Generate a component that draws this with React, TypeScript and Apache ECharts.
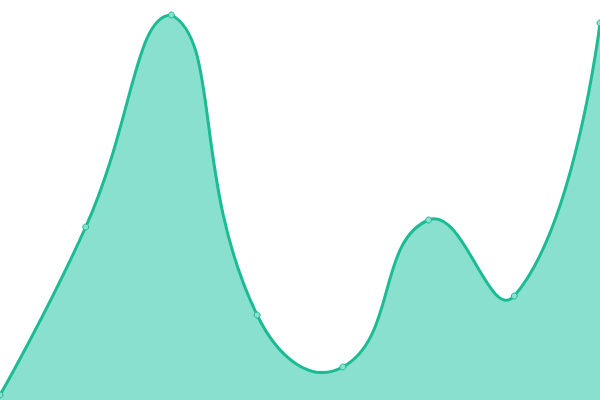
import { useEffect, useRef } from 'react'
import * as echarts from 'echarts'

const categories = ['A', 'B', 'C', 'D', 'E', 'F', 'G', 'H']
const values = [5, 173, 385, 85, 33, 180, 104, 377]

const LINE = '#1dbb94'
const AREA = '#8ae0cf'
const SMOOTH = 0.5

type Pt = [number, number]

// spline through the points, control points kept inside the points' bounding box
function smoothPath(pts: Pt[]) {
  const xs = pts.map((p) => p[0])
  const ys = pts.map((p) => p[1])
  const min: Pt = [Math.min(...xs), Math.min(...ys)]
  const max: Pt = [Math.max(...xs), Math.max(...ys)]
  const clamp = (p: Pt): Pt => [
    Math.max(min[0], Math.min(max[0], p[0])),
    Math.max(min[1], Math.min(max[1], p[1])),
  ]
  let d = `M${pts[0][0]},${pts[0][1]}`
  let cp0: Pt = [pts[0][0], pts[0][1]]
  for (let i = 1; i < pts.length; i++) {
    const p = pts[i]
    const prev = pts[i - 1]
    const next = pts[i + 1]
    let cp1: Pt = [p[0], p[1]]
    let v: Pt = [0, 0]
    let ratio = 0.5
    if (next) {
      v = [next[0] - prev[0], next[1] - prev[1]]
      const a = Math.hypot(p[0] - prev[0], p[1] - prev[1])
      const b = Math.hypot(next[0] - p[0], next[1] - p[1])
      ratio = b / (a + b)
      cp1 = [p[0] - v[0] * SMOOTH * (1 - ratio), p[1] - v[1] * SMOOTH * (1 - ratio)]
    }
    const c0 = clamp(cp0)
    const c1 = clamp(cp1)
    d += ` C${c0[0]},${c0[1]} ${c1[0]},${c1[1]} ${p[0]},${p[1]}`
    cp0 = [p[0] + v[0] * SMOOTH * ratio, p[1] + v[1] * SMOOTH * ratio]
  }
  return d
}

function App() {
  const chartRef = useRef<HTMLDivElement>(null)

  useEffect(() => {
    if (!chartRef.current) return
    const chart = echarts.init(chartRef.current, null, { renderer: 'svg' })

    chart.setOption({
      animation: false,
      grid: { left: 0, right: 0, top: 0, bottom: 0 },
      xAxis: {
        type: 'category',
        data: categories,
        boundaryGap: false,
        show: false,
      },
      yAxis: {
        type: 'value',
        min: 0,
        max: 400,
        show: false,
      },
      series: [
        {
          type: 'custom',
          z: 2,
          data: [[0, 0]],
          renderItem: (_params: any, api: any) => {
            const pts: Pt[] = values.map((v, i) => api.coord([i, v]))
            const base = api.coord([0, 0])[1]
            const line = smoothPath(pts)
            const last = pts[pts.length - 1]
            const area = `${line} L${last[0]},${base} L${pts[0][0]},${base} Z`
            return {
              type: 'group',
              children: [
                { type: 'path', shape: { pathData: area }, style: { fill: AREA } },
                {
                  type: 'path',
                  shape: { pathData: line },
                  style: { fill: 'none', stroke: LINE, lineWidth: 3 },
                },
              ],
            }
          },
        },
        {
          type: 'line',
          z: 3,
          data: values,
          symbol: 'circle',
          symbolSize: 6,
          itemStyle: { color: AREA, borderColor: LINE, borderWidth: 1 },
          lineStyle: { opacity: 0 },
        },
      ],
    })

    return () => {
      chart.dispose()
    }
  }, [])

  return (
    <div
      ref={chartRef}
      style={{ position: 'fixed', left: 0, top: 0, width: 600, height: 400 }}
    />
  )
}

export default App
